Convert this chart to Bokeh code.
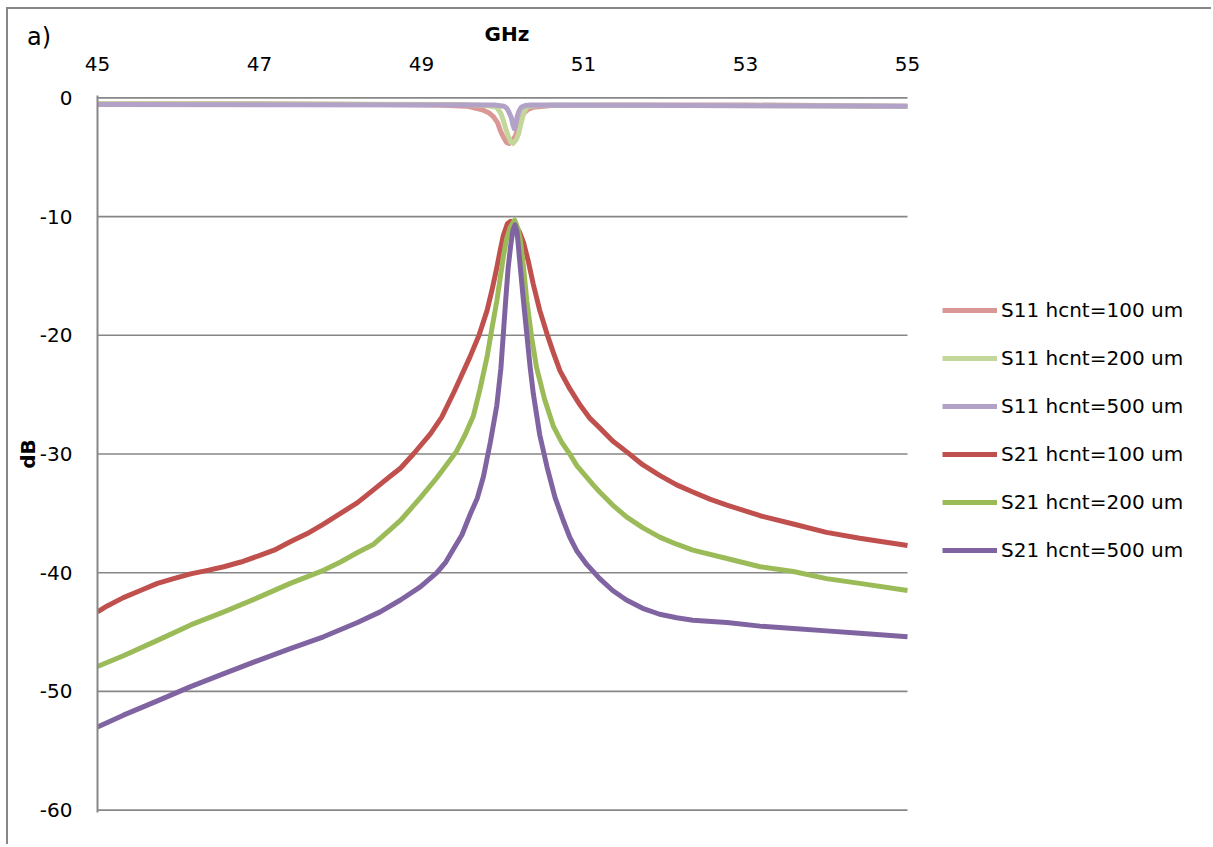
from bokeh.plotting import figure
from bokeh.models import Range1d, FixedTicker, Legend, LegendItem, Div
from bokeh.layouts import column
from bokeh.embed import file_html
from bokeh.resources import INLINE

# ---------------- data ----------------
f_s11_100 = [45.0, 47.0, 48.5, 49.2, 49.56, 49.75, 49.83, 49.89, 49.94, 49.97, 50.01, 50.05, 50.08,
             50.11, 50.16, 50.21, 50.26, 50.32, 50.38, 50.6, 51.5, 53.0, 55.0]
s11_100 = [-0.5, -0.5, -0.55, -0.6, -0.7, -1.0, -1.25, -1.6, -2.1, -2.7, -3.3, -3.75, -3.85,
           -3.7, -3.2, -2.2, -1.3, -0.95, -0.8, -0.65, -0.6, -0.6, -0.7]

f_s11_200 = [45.0, 49.5, 49.8, 49.93, 49.98, 50.01, 50.04, 50.07, 50.10, 50.13, 50.17, 50.20,
             50.23, 50.26, 50.29, 50.32, 50.6, 55.0]
s11_200 = [-0.5, -0.55, -0.65, -0.8, -1.3, -1.9, -2.6, -3.2, -3.7, -3.85, -3.5, -3.0,
           -2.1, -1.3, -0.9, -0.7, -0.6, -0.7]

f_s11_500 = [45.0, 49.9, 50.02, 50.05, 50.08, 50.11, 50.13, 50.145, 50.16, 50.18, 50.205, 50.23,
             50.28, 50.35, 55.0]
s11_500 = [-0.55, -0.6, -0.7, -0.85, -1.2, -1.7, -2.3, -2.6, -2.4, -1.6, -1.1, -0.8,
           -0.65, -0.6, -0.7]

f_s21_100 = [45.00, 45.12, 45.32, 45.53, 45.74, 45.94, 46.15, 46.36, 46.56, 46.77, 46.98, 47.18,
             47.38, 47.59, 47.79, 48.00, 48.21, 48.41, 48.61, 48.74, 48.90, 49.11, 49.25, 49.40,
             49.60, 49.71, 49.81, 49.87, 49.93, 49.97, 50.01, 50.06, 50.10, 50.16, 50.21, 50.26,
             50.32, 50.38, 50.46, 50.55, 50.63, 50.71, 50.83, 50.96, 51.08, 51.20, 51.36, 51.53,
             51.73, 51.94, 52.15, 52.35, 52.56, 52.77, 53.18, 53.59, 54.00, 54.41, 55.00]
s21_100 = [-43.3, -42.8, -42.1, -41.5, -40.9, -40.5, -40.1, -39.8, -39.5, -39.1, -38.6, -38.1,
           -37.4, -36.7, -35.9, -35.0, -34.1, -33.0, -31.9, -31.2, -30.0, -28.3, -26.9, -24.8,
           -21.8, -20.0, -17.9, -16.2, -14.3, -12.9, -11.6, -10.6, -10.4, -10.8, -11.3, -12.2,
           -13.8, -15.7, -17.9, -19.9, -21.5, -23.0, -24.5, -25.9, -27.0, -27.8, -28.9, -29.8,
           -30.9, -31.8, -32.6, -33.2, -33.8, -34.3, -35.2, -35.9, -36.6, -37.1, -37.7]

f_s21_200 = [45.00, 45.32, 45.74, 46.15, 46.56, 46.98, 47.38, 47.79, 48.00, 48.21, 48.41, 48.61,
             48.74, 48.985, 49.19, 49.43, 49.53, 49.64, 49.72, 49.81, 49.87, 49.93, 50.01, 50.05,
             50.095, 50.15, 50.19, 50.22, 50.26, 50.30, 50.36, 50.42, 50.52, 50.63, 50.73, 50.83,
             50.92, 51.12, 51.20, 51.36, 51.53, 51.73, 51.94, 52.15, 52.35, 52.77, 53.18, 53.59,
             54.00, 54.41, 55.00]
s21_200 = [-47.9, -47.0, -45.7, -44.4, -43.3, -42.1, -40.9, -39.8, -39.1, -38.3, -37.6, -36.4,
           -35.6, -33.7, -32.0, -29.8, -28.5, -26.8, -24.6, -21.8, -19.4, -17.1, -13.4, -11.9,
           -10.9, -10.3, -11.0, -12.0, -14.3, -17.1, -20.2, -22.7, -25.4, -27.7, -29.0, -30.0,
           -31.0, -32.6, -33.2, -34.3, -35.3, -36.2, -37.0, -37.6, -38.1, -38.8, -39.5, -39.9,
           -40.5, -40.9, -41.5]

f_s21_500 = [45.00, 45.32, 45.74, 46.15, 46.56, 46.98, 47.38, 47.79, 48.21, 48.49, 48.74, 48.985,
             49.19, 49.30, 49.395, 49.50, 49.60, 49.69, 49.765, 49.85, 49.93, 49.98, 50.01, 50.04,
             50.07, 50.10, 50.13, 50.155, 50.18, 50.20, 50.22, 50.26, 50.30, 50.34, 50.38, 50.46,
             50.55, 50.65, 50.75, 50.83, 50.92, 51.04, 51.20, 51.36, 51.53, 51.73, 51.94, 52.15,
             52.35, 52.77, 53.18, 53.59, 54.00, 54.41, 55.00]
s21_500 = [-53.0, -52.0, -50.8, -49.6, -48.5, -47.4, -46.4, -45.4, -44.2, -43.3, -42.3, -41.2,
           -40.0, -39.1, -38.0, -36.8, -35.1, -33.7, -31.9, -29.0, -25.9, -22.8, -19.9, -17.0,
           -14.3, -12.5, -11.1, -10.7, -11.3, -12.8, -14.3, -17.2, -19.9, -22.6, -24.9, -28.4,
           -31.1, -33.7, -35.6, -37.0, -38.2, -39.3, -40.5, -41.5, -42.3, -43.0, -43.5, -43.8,
           -44.0, -44.2, -44.5, -44.7, -44.9, -45.1, -45.4]

series_names = ["S11 hcnt=100 um", "S11 hcnt=200 um", "S11 hcnt=500 um",
                "S21 hcnt=100 um", "S21 hcnt=200 um", "S21 hcnt=500 um"]
series_colors = ["#D99795", "#C4D79B", "#B3A2C7", "#C0504D", "#9BBB59", "#8064A2"]

x_ticks = [45, 47, 49, 51, 53, 55]
y_ticks = [-60, -50, -40, -30, -20, -10, 0]
x_title = "GHz"
y_title = "dB"
panel_label = "a)"

FONT = "DejaVu Sans"
GRAY = "#878787"

# ---------------- geometry ----------------
FIG_W, FIG_H = 1205, 837
LEFT, TOP, BOTTOM = 89, 86, 34
PLOT_PX_W = 810                      # pixel width of the 45..55 GHz span
PX_PER_X = PLOT_PX_W / (x_ticks[-1] - x_ticks[0])
frame_w = FIG_W - LEFT               # the frame runs to the right edge so the legend is not clipped
x_end = x_ticks[0] + frame_w / PX_PER_X
Y_PAD = 0.2                          # keeps the 0 and -60 lines whole

p = figure(width=FIG_W, height=FIG_H, output_backend="svg", toolbar_location=None,
           x_range=Range1d(x_ticks[0], x_end), y_range=Range1d(y_ticks[0] - Y_PAD, y_ticks[-1] + Y_PAD),
           x_axis_location="above",
           min_border_left=LEFT, min_border_top=TOP, min_border_right=0, min_border_bottom=BOTTOM)
p.styles = {"margin-left": "6px", "margin-top": "7px",
            "border-top": "2px solid " + GRAY, "border-left": "2px solid " + GRAY}
p.outline_line_color = None
p.background_fill_color = "white"
p.border_fill_color = "white"

p.xgrid.visible = False
p.ygrid.visible = False

for ax in (p.xaxis[0], p.yaxis[0]):
    ax.major_tick_out = 0
    ax.major_tick_in = 0
    ax.minor_tick_out = 0
    ax.minor_tick_in = 0
    ax.axis_line_color = GRAY
    ax.axis_line_width = 2
    ax.major_label_text_font = FONT
    ax.major_label_text_font_size = "20px"
    ax.major_label_text_color = "black"
    ax.axis_label_text_font = FONT
    ax.axis_label_text_font_size = "20px"
    ax.axis_label_text_font_style = "bold"
    ax.axis_label_text_color = "black"

p.xaxis.ticker = FixedTicker(ticks=x_ticks)
p.xaxis.axis_line_color = None
p.xaxis.major_label_standoff = 25

p.yaxis.ticker = FixedTicker(ticks=y_ticks)
p.yaxis.major_label_overrides = {t: str(t) for t in y_ticks}
p.yaxis.axis_label = y_title
p.yaxis.major_label_standoff = 25
p.yaxis.axis_label_standoff = -3

# horizontal gridlines across the 45..55 span only (the 0 line doubles as the x axis line)
n = len(y_ticks)
p.segment(x0=[x_ticks[0]] * n, x1=[x_ticks[-1]] * n, y0=y_ticks, y1=y_ticks,
          line_color=GRAY, line_width=1.6)

xs = [f_s11_100, f_s11_200, f_s11_500, f_s21_100, f_s21_200, f_s21_500]
ys = [s11_100, s11_200, s11_500, s21_100, s21_200, s21_500]

items = []
for name, color, x, y in zip(series_names, series_colors, xs, ys):
    r = p.line(x, y, line_color=color, line_width=5, line_join="round")
    items.append(LegendItem(label=name, renderers=[r]))

legend = Legend(items=items, location=(845, 250), orientation="vertical",
                glyph_width=55, glyph_height=24, label_height=24, spacing=24,
                label_standoff=4, padding=0, margin=0,
                border_line_color=None, background_fill_alpha=0,
                label_text_font=FONT, label_text_font_size="20px",
                label_text_color="black")
p.add_layout(legend)

tag = Div(text=panel_label, width=40, height=30,
          styles={"position": "absolute", "left": "22px", "top": "20px",
                  "font-size": "24px", "font-family": FONT, "color": "black",
                  "line-height": "1", "z-index": "5"})
xlab = Div(text=x_title, width=100, height=24,
           styles={"position": "absolute", "left": "452px", "top": "19px",
                   "font-size": "20px", "font-weight": "bold", "font-family": FONT,
                   "color": "black", "text-align": "center", "line-height": "1",
                   "z-index": "5"})

layout = column(p, tag, xlab, styles={"position": "relative"})

open("out.html", "w").write(file_html(layout, INLINE))
